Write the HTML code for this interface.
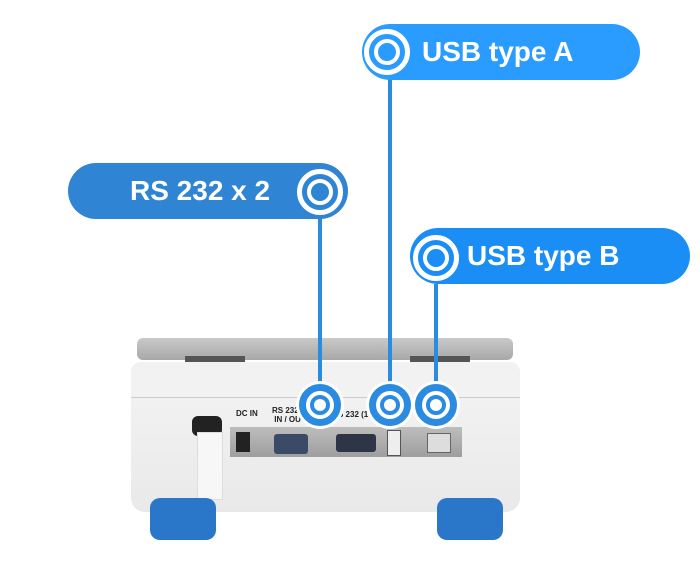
<!DOCTYPE html>
<html><head><style>
body{margin:0;width:700px;height:573px;background:#fff;position:relative;overflow:hidden;font-family:"Liberation Sans",sans-serif}
.a{position:absolute}
.pill{position:absolute;height:56px;border-radius:28px;color:#fff;font-weight:bold;font-size:28px;line-height:56px}
.ring{position:absolute;border-radius:50%;box-sizing:border-box}
</style></head><body>
<!-- scale -->
<div class="a" style="left:137px;top:338px;width:376px;height:22px;background:linear-gradient(#c9c9c9,#a8a8a8);border-radius:6px"></div>
<div class="a" style="left:185px;top:356px;width:60px;height:8px;background:#555"></div>
<div class="a" style="left:410px;top:356px;width:60px;height:8px;background:#555"></div>
<div class="a" style="left:131px;top:362px;width:389px;height:150px;background:linear-gradient(#f4f4f4,#e9e9e9);border-radius:10px 10px 14px 14px"></div>
<div class="a" style="left:131px;top:362px;width:389px;height:35px;background:#f2f2f2;border-radius:10px 10px 0 0;border-bottom:1px solid #ccc"></div>
<div class="a" style="left:230px;top:427px;width:232px;height:30px;background:linear-gradient(#bdbdbd,#9e9e9e)"></div>
<div class="a" style="left:236px;top:432px;width:14px;height:20px;background:#222"></div>
<div class="a" style="left:274px;top:434px;width:34px;height:20px;background:#3b4b66;border-radius:3px"></div>
<div class="a" style="left:336px;top:434px;width:40px;height:18px;background:#2e3546;border-radius:3px"></div>
<div class="a" style="left:387px;top:430px;width:12px;height:24px;background:#eee;border:1px solid #555"></div>
<div class="a" style="left:427px;top:433px;width:22px;height:18px;background:#ddd;border:1px solid #666"></div>
<div class="a" style="left:236px;top:409px;font-size:8px;font-weight:bold;color:#222">DC IN</div>
<div class="a" style="left:272px;top:406px;font-size:8px;font-weight:bold;color:#222;line-height:9px">RS 232<br>&nbsp;IN / OUT</div>
<div class="a" style="left:338px;top:410px;font-size:8px;font-weight:bold;color:#222">S 232 (1</div>
<div class="a" style="left:192px;top:416px;width:30px;height:20px;background:#222;border-radius:6px"></div>
<div class="a" style="left:197px;top:432px;width:24px;height:66px;background:#f7f7f7;border:1px solid #ddd"></div>
<div class="a" style="left:150px;top:498px;width:66px;height:42px;background:#2a76c9;border-radius:10px"></div>
<div class="a" style="left:437px;top:498px;width:66px;height:42px;background:#2a76c9;border-radius:10px"></div>
<!-- lines -->
<div class="a" style="left:318px;top:218px;width:4px;height:190px;background:#2a8be0"></div>
<div class="a" style="left:388px;top:78px;width:4px;height:330px;background:#2a8be0"></div>
<div class="a" style="left:434px;top:284px;width:4px;height:124px;background:#2a8be0"></div>
<!-- bottom rings -->
<div class="ring" style="left:299px;top:384px;width:42px;height:42px;border:7px solid #2a8be0;box-shadow:0 0 0 3px #fff;background:#fff"><div class="ring" style="left:4px;top:4px;width:20px;height:20px;border:4px solid #2a8be0"></div></div>
<div class="ring" style="left:369px;top:384px;width:42px;height:42px;border:7px solid #2a8be0;box-shadow:0 0 0 3px #fff;background:#fff"><div class="ring" style="left:4px;top:4px;width:20px;height:20px;border:4px solid #2a8be0"></div></div>
<div class="ring" style="left:415px;top:384px;width:42px;height:42px;border:7px solid #2a8be0;box-shadow:0 0 0 3px #fff;background:#fff"><div class="ring" style="left:4px;top:4px;width:20px;height:20px;border:4px solid #2a8be0"></div></div>
<!-- pills -->
<div class="pill" style="left:362px;top:24px;width:278px;background:#2a9bff"><span style="position:absolute;left:60px">USB type A</span></div>
<div class="ring" style="left:364px;top:29px;width:46px;height:46px;border:5px solid #fff;background:#2a9bff"><div class="ring" style="left:5px;top:5px;width:26px;height:26px;border:4px solid #fff"></div></div>
<div class="pill" style="left:68px;top:163px;width:280px;background:#2f84d3"><span style="position:absolute;left:62px">RS 232 x 2</span></div>
<div class="ring" style="left:297px;top:169px;width:46px;height:46px;border:5px solid #fff;background:#2f84d3"><div class="ring" style="left:5px;top:5px;width:26px;height:26px;border:4px solid #fff"></div></div>
<div class="pill" style="left:410px;top:228px;width:280px;background:#1a8ef5"><span style="position:absolute;left:57px">USB type B</span></div>
<div class="ring" style="left:413px;top:235px;width:46px;height:46px;border:5px solid #fff;background:#1a8ef5"><div class="ring" style="left:5px;top:5px;width:26px;height:26px;border:4px solid #fff"></div></div>
</body></html>
